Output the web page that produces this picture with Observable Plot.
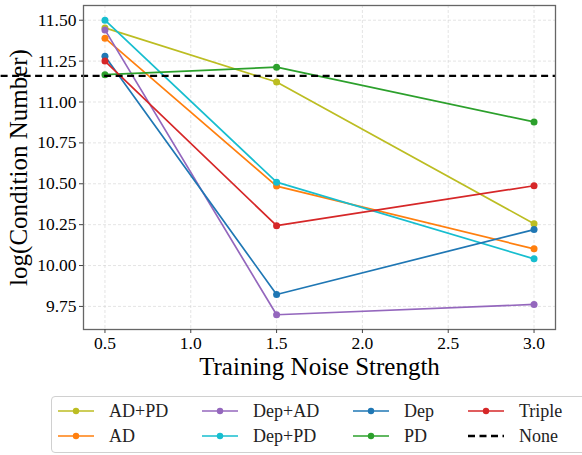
<!DOCTYPE html>
<html>
<head>
<meta charset="utf-8">
<script src="https://cdn.jsdelivr.net/npm/d3@7"></script>
<script src="https://cdn.jsdelivr.net/npm/@observablehq/plot@0.6"></script>
<style>
  html, body { margin: 0; padding: 0; background: #fff; overflow: hidden; }
  #wrap { position: relative; width: 582px; height: 455px; font-family: "Liberation Serif", "DejaVu Serif", serif; }
  #wrap svg, #wrap svg text { font-family: "Liberation Serif", "DejaVu Serif", serif !important; fill: #000; }
  g[aria-label="x-axis label"] text, g[aria-label="y-axis label"] text { font-size: 25px !important; }
  #legend { position: absolute; left: 51px; top: 396px; width: 545px; height: 57px; border: 1px solid #d0d0d0; border-radius: 4px; box-sizing: border-box; }
  .item { position: absolute; display: flex; align-items: center; font-size: 18px; color: #222; white-space: nowrap; }
  .item svg { margin-right: 14px; }
</style>
</head>
<body>
<div id="wrap"></div>
<script>
const noiseLevels = [0.5, 1.5, 3.0];
const seriesNames = ["AD+PD", "AD", "Dep+AD", "Dep+PD", "Dep", "PD", "Triple"];
const seriesColors = ["#bcbd22", "#ff7f0e", "#9467bd", "#17becf", "#1f77b4", "#2ca02c", "#d62728"];
const valuesADPD   = [11.453, 11.122, 10.256];
const valuesAD     = [11.390, 10.486, 10.102];
const valuesDepAD  = [11.441, 9.699, 9.762];
const valuesDepPD  = [11.500, 10.510, 10.041];
const valuesDep    = [11.280, 9.823, 10.220];
const valuesPD     = [11.167, 11.213, 10.878];
const valuesTriple = [11.250, 10.244, 10.488];
const noneValue = 11.160;
const xTicks = [0.5, 1.0, 1.5, 2.0, 2.5, 3.0];
const yTicks = [9.75, 10.00, 10.25, 10.50, 10.75, 11.00, 11.25, 11.50];

const seriesValues = [valuesADPD, valuesAD, valuesDepAD, valuesDepPD, valuesDep, valuesPD, valuesTriple];
const data = [];
seriesNames.forEach((name, i) => {
  noiseLevels.forEach((x, j) => data.push({series: name, x, y: seriesValues[i][j]}));
});

const allY = data.map(d => d.y);
const yMin = d3.min(allY), yMax = d3.max(allY);
const yPad = (yMax - yMin) * 0.05;
const xPad = (noiseLevels[2] - noiseLevels[0]) * 0.05;
const xDomain = [noiseLevels[0] - xPad, noiseLevels[2] + xPad];

const chart = Plot.plot({
  width: 582,
  height: 395,
  marginTop: 5,
  marginBottom: 66,
  marginLeft: 83,
  marginRight: 27,
  style: {fontSize: "17px", fontFamily: "'Liberation Serif', serif", color: "#000"},
  x: {domain: xDomain},
  y: {domain: [yMin - yPad, yMax + yPad]},
  color: {domain: seriesNames, range: seriesColors},
  marks: [
    Plot.gridX(xTicks, {stroke: "#ccc", strokeOpacity: 0.5, strokeDasharray: "3,2"}),
    Plot.gridY(yTicks, {stroke: "#ccc", strokeOpacity: 0.5, strokeDasharray: "3,2"}),
    Plot.line(data, {x: "x", y: "y", z: "series", stroke: "series", strokeWidth: 1.7}),
    Plot.dot(data, {x: "x", y: "y", fill: "series", r: 3.5}),
    Plot.ruleY([noneValue], {x1: xDomain[0] - 0.48, x2: xDomain[1], stroke: "#000", strokeWidth: 2.3, strokeDasharray: "7,4.5"}),
    Plot.frame({stroke: "#666", strokeWidth: 1.3}),
    Plot.axisX(xTicks, {tickFormat: d3.format(".1f"), tickSize: 4, tickPadding: 3, fontSize: 17.5, fontFamily: "Liberation Serif", label: "Training Noise Strength", labelAnchor: "center", labelArrow: "none", labelOffset: 45, stroke: "#444"}),
    Plot.axisY(yTicks, {tickFormat: d3.format(".2f"), tickSize: 4, tickPadding: 3, fontSize: 17.5, fontFamily: "Liberation Serif", label: "log(Condition Number)", labelAnchor: "center", labelArrow: "none", labelOffset: 74, stroke: "#444"})
  ]
});
const wrap = document.getElementById("wrap");
wrap.appendChild(chart);

// legend
const legend = document.createElement("div");
legend.id = "legend";
wrap.appendChild(legend);
const legendItems = seriesNames.map((n, i) => ({name: n, color: seriesColors[i], dashed: false}));
legendItems.push({name: "None", color: "#000", dashed: true});
const colLeft = [5, 149, 300, 415];
const rowTop = [2, 27];
legendItems.forEach((it, k) => {
  const col = Math.floor(k / 2), row = k % 2;
  const div = document.createElement("div");
  div.className = "item";
  div.style.left = colLeft[col] + "px";
  div.style.top = rowTop[row] + "px";
  const sw = d3.create("svg").attr("width", 38).attr("height", 24);
  sw.append("line").attr("x1", 1).attr("x2", 37).attr("y1", 12).attr("y2", 12)
    .attr("stroke", it.color).attr("stroke-width", it.dashed ? 2.3 : 1.7)
    .attr("stroke-dasharray", it.dashed ? "7,4.5" : null);
  if (!it.dashed) sw.append("circle").attr("cx", 19).attr("cy", 12).attr("r", 3.2).attr("fill", it.color);
  div.appendChild(sw.node());
  const t = document.createElement("span");
  t.textContent = it.name;
  div.appendChild(t);
  legend.appendChild(div);
});
</script>
</body>
</html>
